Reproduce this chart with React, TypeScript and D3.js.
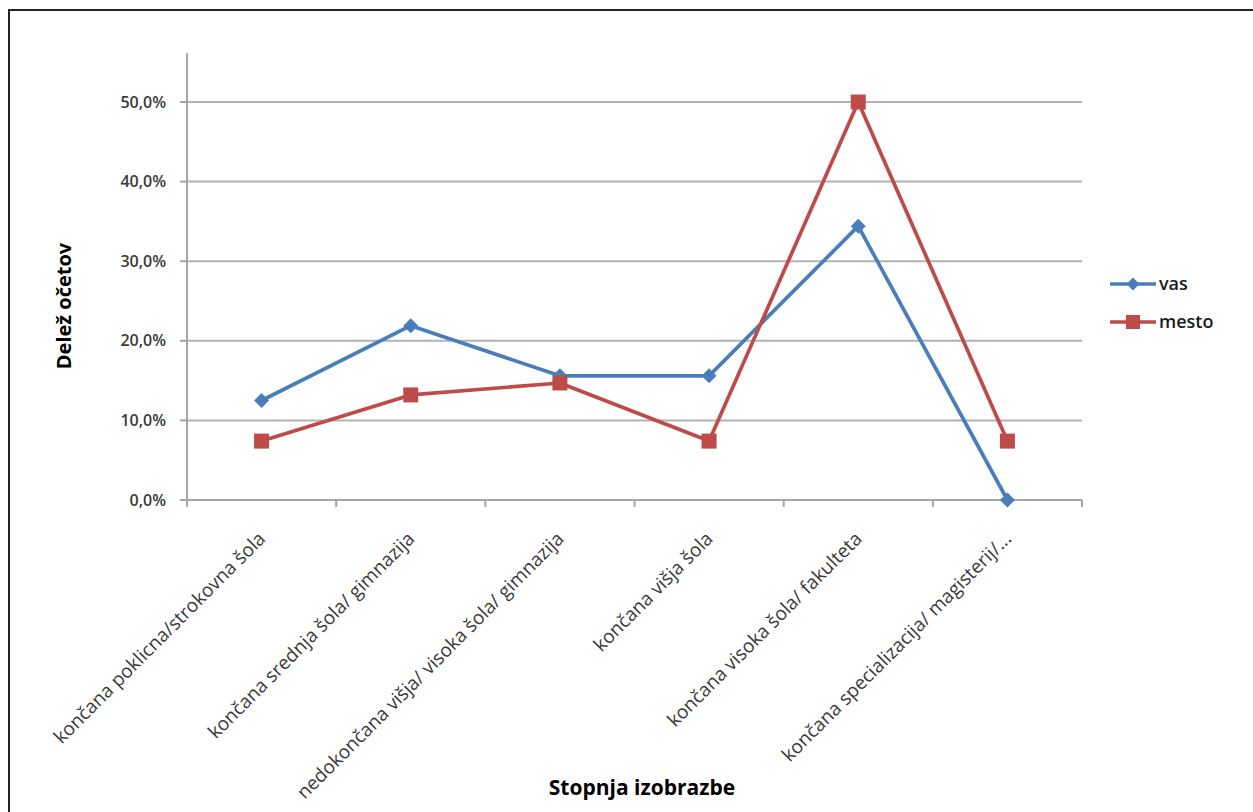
import React from "react";
import * as d3 from "d3";

const categories = [
  "končana poklicna/strokovna šola",
  "končana srednja šola/ gimnazija",
  "nedokončana višja/ visoka šola/ gimnazija",
  "končana višja šola",
  "končana visoka šola/ fakulteta",
  "končana specializacija/ magisterij/...",
];
const vasValues = [0.125, 0.219, 0.156, 0.156, 0.344, 0.0];
const mestoValues = [0.074, 0.132, 0.147, 0.074, 0.5, 0.074];
const yTicks = [0, 0.1, 0.2, 0.3, 0.4, 0.5];
const seriesNames = ["vas", "mesto"];

const W = 1253;
const H = 812;
const left = 187;
const right = 1082;
const top = 53;
const bottom = 500;
const blue = "#4A7EBB";
const red = "#BE4B48";
const font = "'Open Sans', sans-serif";

export default function App() {
  const x = d3.scaleBand<string>().domain(categories).range([left, right]);
  const y = d3.scaleLinear().domain([0, 0.5]).range([bottom, 102]);
  const cx = (c: string) => (x(c) as number) + x.bandwidth() / 2;
  const fmt = (v: number) => (v * 100).toFixed(1).replace(".", ",") + "%";
  const line = d3
    .line<number>()
    .x((_, i) => cx(categories[i]))
    .y((d) => y(d));

  const diamond = (px: number, py: number, key: string, r = 7.5) => (
    <path
      key={key}
      d={`M${px},${py - r}L${px + r},${py}L${px},${py + r}L${px - r},${py}Z`}
      fill={blue}
    />
  );
  const square = (px: number, py: number, key: string, s = 15) => (
    <rect key={key} x={px - s / 2} y={py - s / 2} width={s} height={s} fill={red} />
  );

  const ticksX = [...categories.map((c) => x(c) as number), right];

  return (
    <svg
      width={W}
      height={H}
      style={{ position: "absolute", left: 0, top: 0, display: "block", background: "#fff" }}
    >
      <rect x={9} y={10} width={1260} height={820} fill="none" stroke="#222" strokeWidth={2} />
      {/* gridlines */}
      {yTicks.slice(1).map((t) => (
        <line key={t} x1={left} x2={right} y1={y(t)} y2={y(t)} stroke="#b3b3b3" strokeWidth={2} />
      ))}
      {/* y axis */}
      <line x1={left} x2={left} y1={top} y2={bottom} stroke="#a6a6a6" strokeWidth={2} />
      {yTicks.map((t) => (
        <g key={"yt" + t}>
          <line x1={left - 7} x2={left} y1={y(t)} y2={y(t)} stroke="#a6a6a6" strokeWidth={2} />
          <text
            x={left - 21}
            y={y(t)}
            dy="0.35em"
            textAnchor="end"
            fontFamily={font}
            fontSize={16}
            fontWeight={600}
            fill="#3a3a3a"
          >
            {fmt(t)}
          </text>
        </g>
      ))}
      {/* x axis */}
      <line x1={left} x2={right} y1={bottom} y2={bottom} stroke="#a6a6a6" strokeWidth={2} />
      {ticksX.map((tx, i) => (
        <line key={"xt" + i} x1={tx} x2={tx} y1={bottom} y2={bottom + 7} stroke="#a6a6a6" strokeWidth={2} />
      ))}
      {categories.map((c) => (
        <text
          key={"xl" + c}
          transform={`translate(${cx(c) + 5},${bottom + 40}) rotate(-45)`}
          textAnchor="end"
          fontFamily={font}
          fontSize={19}
          fill="#3a3a3a"
        >
          {c}
        </text>
      ))}
      {/* series */}
      <path d={line(vasValues) || ""} fill="none" stroke={blue} strokeWidth={3.7} strokeLinejoin="round" />
      <path d={line(mestoValues) || ""} fill="none" stroke={red} strokeWidth={3.7} strokeLinejoin="round" />
      {vasValues.map((v, i) => diamond(cx(categories[i]), y(v), "d" + i))}
      {mestoValues.map((v, i) => square(cx(categories[i]), y(v), "s" + i))}
      {/* axis titles */}
      <text
        transform={`translate(71,306) rotate(-90)`}
        textAnchor="middle"
        fontFamily={font}
        fontWeight="bold"
        fontSize={20}
        fill="#000"
      >
        Delež očetov
      </text>
      <text x={642} y={795} textAnchor="middle" fontFamily={font} fontWeight="bold" fontSize={21} fill="#000">
        Stopnja izobrazbe
      </text>
      {/* legend */}
      {seriesNames.map((n, i) => {
        const ly = 284 + i * 38;
        return (
          <g key={n}>
            <line x1={1110} x2={1156} y1={ly} y2={ly} stroke={i === 0 ? blue : red} strokeWidth={3.7} />
            {i === 0 ? diamond(1133, ly, "ld", 6.5) : square(1133, ly, "ls", 14)}
            <text x={1159} y={ly} dy="0.35em" fontFamily={font} fontSize={18} fontWeight={600} fill="#1a1a1a">
              {n}
            </text>
          </g>
        );
      })}
    </svg>
  );
}
